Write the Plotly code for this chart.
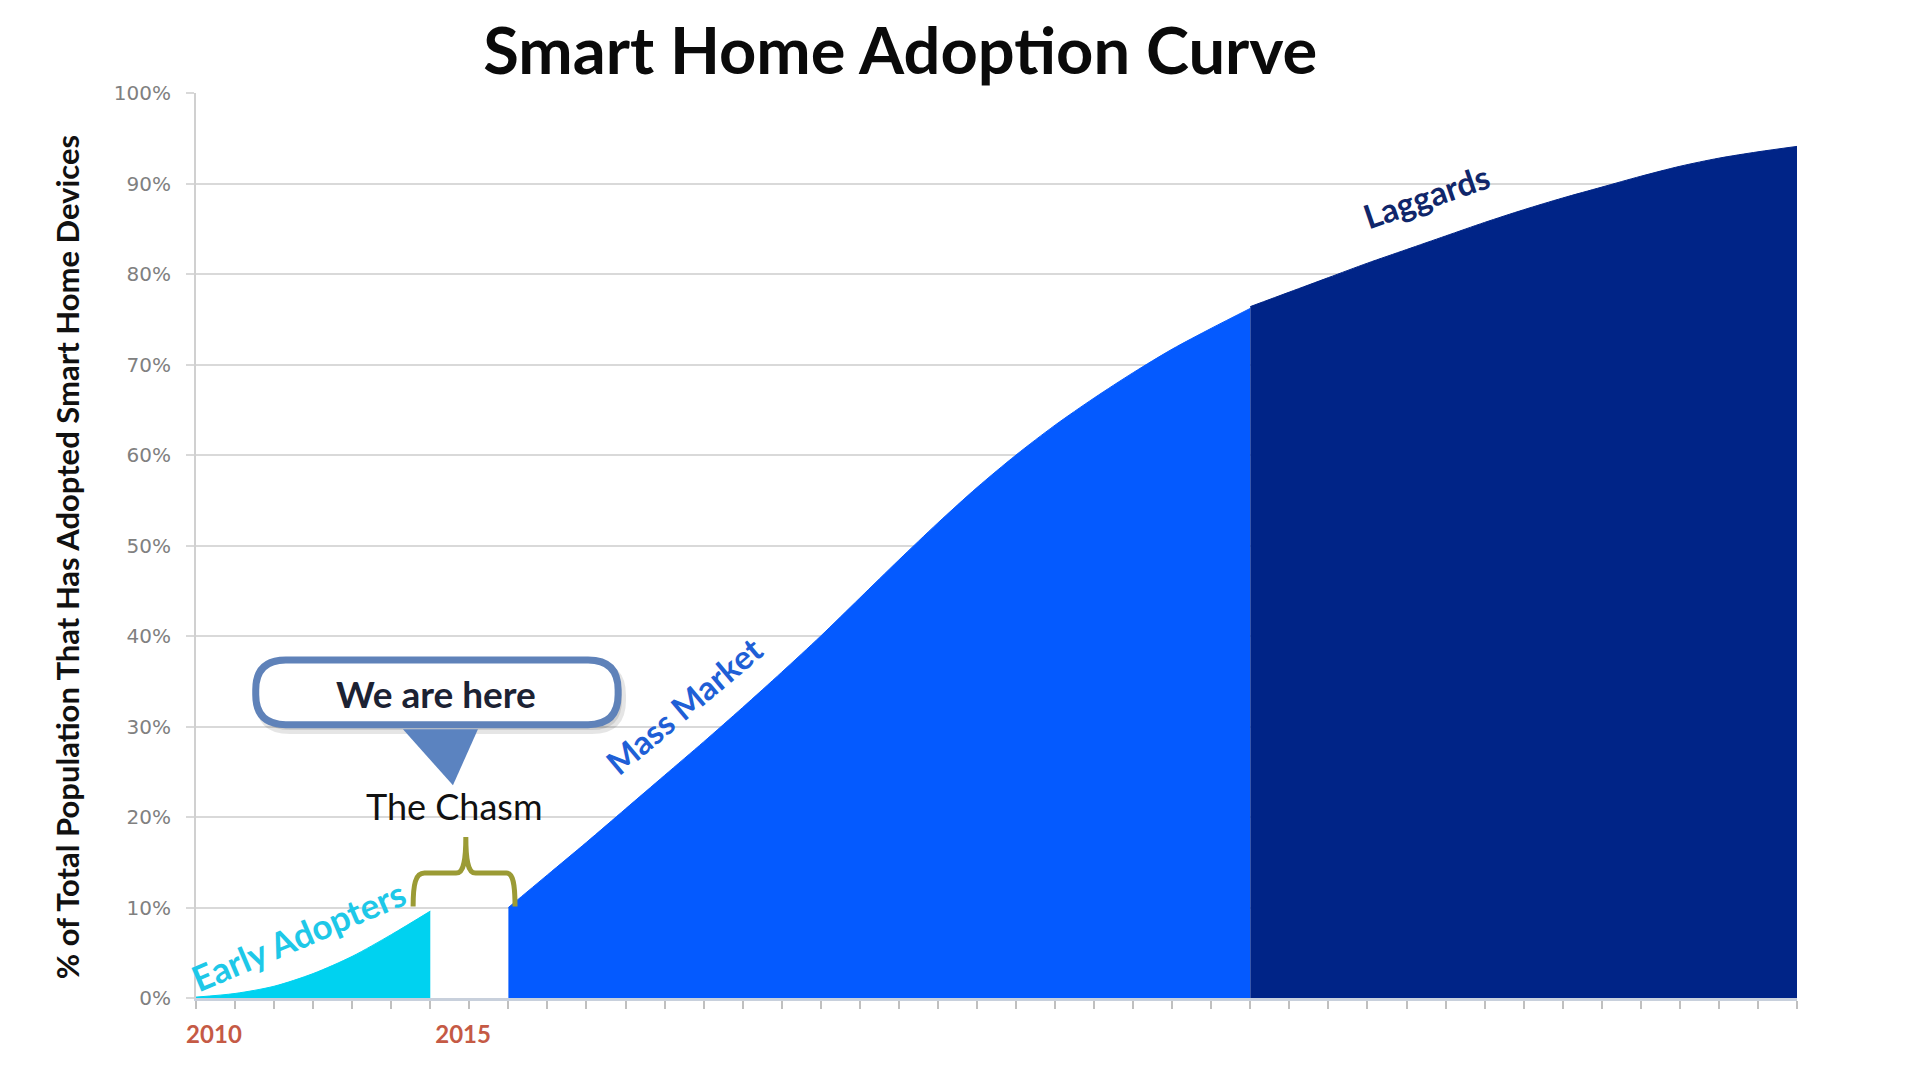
import plotly.graph_objects as go

# x positions are tick slots along the time axis (one slot per tick mark)
early_x = [0, 1, 2, 3, 4, 5, 6]
early_y = [0.1, 0.5, 1.3, 2.7, 4.6, 7.0, 9.6]

mass_x = list(range(8, 28))
mass_y = [10.0, 13.6, 17.2, 20.9, 24.6, 28.3, 32.1, 36.0, 40.0, 44.2,
          48.4, 52.5, 56.4, 60.0, 63.3, 66.3, 69.1, 71.7, 74.0, 76.2]

laggard_x = list(range(27, 42))
laggard_y = [76.4, 78.0, 79.6, 81.2, 82.7, 84.2, 85.7, 87.1, 88.4, 89.6,
             90.8, 91.9, 92.8, 93.5, 94.1]

year_ticks = [0.46, 6.84]
year_labels = ["2010", "2015"]

segment_colors = {"early": "#00d2f0", "mass": "#045aff", "laggards": "#002487"}

FONT = "Lato, 'Open Sans', sans-serif"

fig = go.Figure()

for xs, ys, key in [(early_x, early_y, "early"),
                    (mass_x, mass_y, "mass"),
                    (laggard_x, laggard_y, "laggards")]:
    fig.add_trace(go.Scatter(
        x=xs, y=ys,
        mode="lines",
        line=dict(color=segment_colors[key], width=1, shape="spline", smoothing=0.8),
        fill="tozeroy",
        fillcolor=segment_colors[key],
        hoverinfo="skip",
        showlegend=False,
    ))

# --- callout "We are here" + the chasm bracket ---
chasm_start = early_x[-1]
chasm_end = mass_x[0]
mid = (chasm_start + chasm_end) / 2 - 0.09

bx0, bx1, by0, by1 = 1.53, 10.81, 30.2, 37.35
rx, ry = 0.77, 3.3

def pill(x0, x1, y0, y1):
    return (f"M {x0+rx},{y1} L {x1-rx},{y1} Q {x1},{y1} {x1},{y1-ry} "
            f"L {x1},{y0+ry} Q {x1},{y0} {x1-rx},{y0} L {x0+rx},{y0} "
            f"Q {x0},{y0} {x0},{y0+ry} L {x0},{y1-ry} Q {x0},{y1} {x0+rx},{y1} Z")

shapes = [
    # soft shadow
    dict(type="path", xref="x", yref="y", path=pill(bx0 + 0.1, bx1 + 0.1, by0 - 0.6, by1 - 0.6),
         fillcolor="rgba(0,0,0,0.10)", line=dict(color="rgba(0,0,0,0.10)", width=8)),
    dict(type="path", xref="x", yref="y", path=pill(bx0, bx1, by0, by1),
         fillcolor="white", line=dict(color="#5f82b9", width=7)),
    dict(type="path", xref="x", yref="y",
         path="M 5.30,29.7 L 7.22,29.7 L 6.58,23.5 Z",
         fillcolor="#5b83c0", line=dict(width=0)),
    dict(type="path", xref="x", yref="y",
         path=(f"M {chasm_start-0.44},10.1 C {chasm_start-0.44},12.6 {chasm_start-0.38},13.8 {chasm_start-0.15},13.8 "
               f"L {mid-0.25},13.8 C {mid-0.05},13.8 {mid},15.2 {mid},17.8 "
               f"C {mid},15.2 {mid+0.05},13.8 {mid+0.25},13.8 "
               f"L {chasm_end-0.05},13.8 C {chasm_end+0.12},13.8 {chasm_end+0.17},12.6 {chasm_end+0.17},10.1"),
         line=dict(color="#9b9b35", width=5)),
]

annotations = [
    dict(x=6.15, y=33.6, xref="x", yref="y", text="We are here", showarrow=False,
         font=dict(family=FONT, size=37, color="#1c2233", weight="bold")),
    dict(x=6.63, y=21.2, xref="x", yref="y", text="The Chasm", showarrow=False,
         font=dict(family=FONT, size=36, color="#111111")),
    dict(x=2.62, y=7.0, xref="x", yref="y", text="Early Adopters", showarrow=False,
         textangle=-23, font=dict(family=FONT, size=35, color="#1ec8e8", weight="bold")),
    dict(x=12.5, y=32.4, xref="x", yref="y", text="Mass Market", showarrow=False,
         textangle=-40, font=dict(family=FONT, size=33, color="#1f5fd6", weight="bold")),
    dict(x=31.5, y=88.6, xref="x", yref="y", text="Laggards", showarrow=False,
         textangle=-19, font=dict(family=FONT, size=33, color="#10266a", weight="bold")),
    dict(x=-0.0937, y=0.487, xref="paper", yref="paper",
         text="% of Total Population That Has Adopted Smart Home Devices",
         showarrow=False, textangle=-90,
         font=dict(family=FONT, size=31, color="#111111", weight="bold")),
]

fig.update_layout(
    width=1921, height=1083,
    margin=dict(l=188, r=132, t=85, b=93),
    paper_bgcolor="white", plot_bgcolor="white",
    title=dict(text="Smart Home Adoption Curve", x=0.4645, xanchor="center",
               y=0.96, yanchor="middle",
               font=dict(family=FONT, size=65, color="#0a0a0a", weight="bold")),
    shapes=shapes,
    annotations=annotations,
    xaxis=dict(
        range=[0, 41], showgrid=False, zeroline=False,
        showline=True, linecolor="#c8d0dc", linewidth=3,
        tickmode="array", tickvals=year_ticks, ticktext=year_labels,
        ticks="", ticklabelstandoff=13,
        tickfont=dict(family=FONT, size=24, color="#c55a45", weight="bold"),
        minor=dict(tickmode="linear", tick0=0, dtick=1, ticks="outside",
                   ticklen=8, tickwidth=2, tickcolor="#c0c0c0", showgrid=False),
    ),
    yaxis=dict(
        range=[0, 100], dtick=10, ticksuffix="%",
        showgrid=True, gridcolor="#d9d9d9", gridwidth=2, zeroline=False,
        showline=True, linecolor="#d0d0d0", linewidth=2,
        ticks="outside", ticklen=8, tickwidth=2, tickcolor="#d9d9d9",
        ticklabelstandoff=11,
        tickfont=dict(family="'DejaVu Sans', Verdana, sans-serif", size=20, color="#808080"),
    ),
)

fig.write_html("out.html")
